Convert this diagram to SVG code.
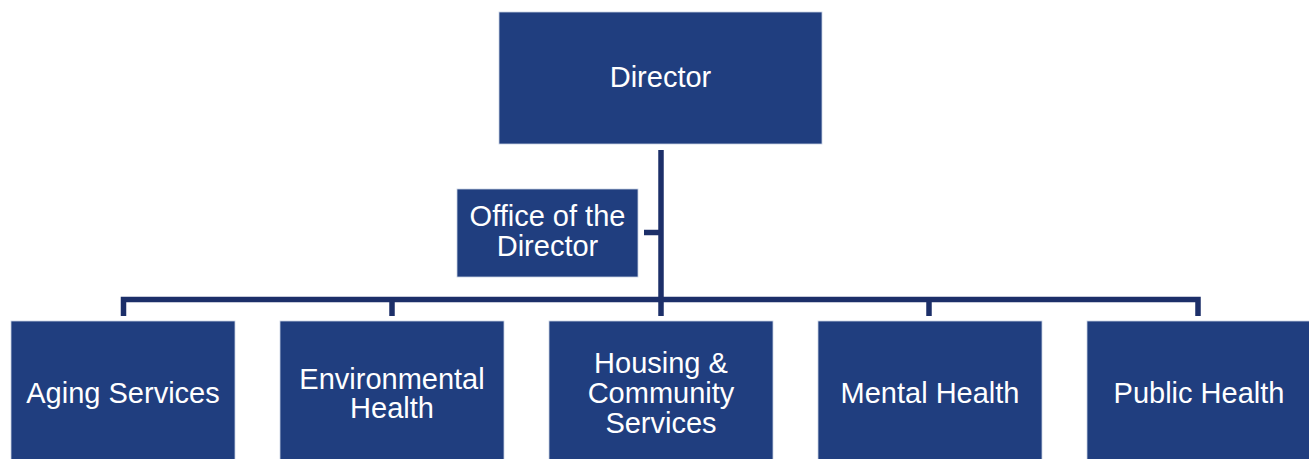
<svg xmlns="http://www.w3.org/2000/svg" width="1309" height="459" viewBox="0 0 1309 459">
<style>
.box{fill:#203E7F;stroke:#C9D2E4;stroke-width:0.8}
.t{fill:#FFFFFF;font-family:"Liberation Sans",Arial,sans-serif;font-size:29px;text-anchor:middle}
.ln{stroke:#1C2F69;stroke-width:5.5;fill:none;stroke-linecap:butt}
</style>
<rect width="1309" height="459" fill="#FFFFFF"/>
<g id="connectors">
<line class="ln" x1="661" y1="150" x2="661" y2="316"/>
<line class="ln" x1="644" y1="232.5" x2="661" y2="232.5"/>
<path class="ln" d="M123.5,316 V299.5 H1198 V316"/>
<line class="ln" x1="392" y1="299.5" x2="392" y2="316"/>
<line class="ln" x1="929" y1="299.5" x2="929" y2="316"/>
</g>
<g id="director">
<rect class="box" x="499" y="12" width="323" height="132"/>
<text class="t" x="660.5" y="87">Director</text>
</g>
<g id="office">
<rect class="box" x="457" y="189" width="181" height="88"/>
<text class="t" x="547.5" y="226">Office of the</text>
<text class="t" x="547.5" y="256">Director</text>
</g>
<g id="aging">
<rect class="box" x="11" y="321" width="224" height="145"/>
<text class="t" x="123" y="403">Aging Services</text>
</g>
<g id="environmental">
<rect class="box" x="280" y="321" width="224" height="145"/>
<text class="t" x="392" y="389">Environmental</text>
<text class="t" x="392" y="418">Health</text>
</g>
<g id="housing">
<rect class="box" x="549" y="321" width="224" height="145"/>
<text class="t" x="661" y="373">Housing &amp;</text>
<text class="t" x="661" y="403">Community</text>
<text class="t" x="661" y="433">Services</text>
</g>
<g id="mental">
<rect class="box" x="818" y="321" width="224" height="145"/>
<text class="t" x="930" y="403">Mental Health</text>
</g>
<g id="public">
<rect class="box" x="1087" y="321" width="224" height="145"/>
<text class="t" x="1199" y="403">Public Health</text>
</g>
</svg>
